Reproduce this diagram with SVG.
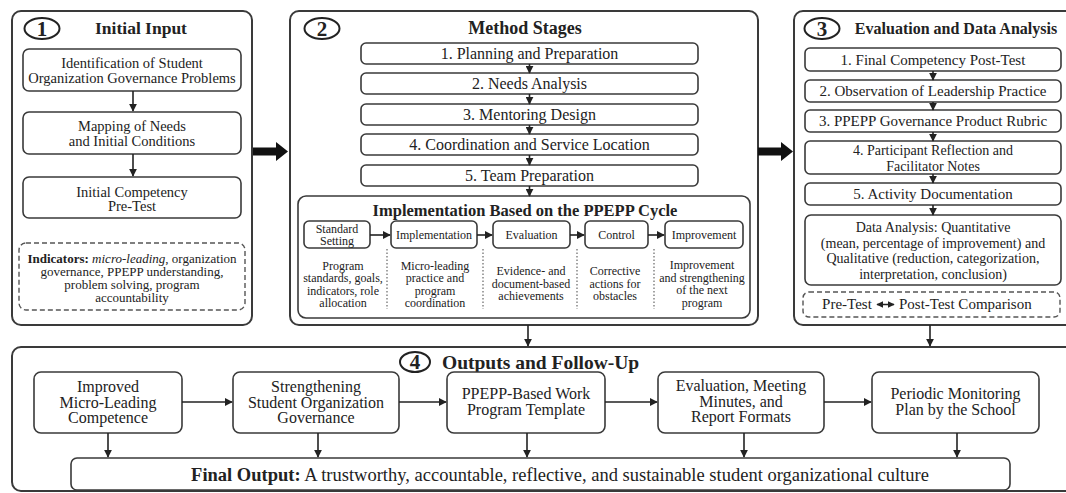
<svg xmlns="http://www.w3.org/2000/svg" width="1066" height="493" viewBox="0 0 1066 493">
<defs>
<marker id="ah" viewBox="0 0 10 10" refX="9" refY="5" markerWidth="8" markerHeight="8" markerUnits="userSpaceOnUse" orient="auto">
<path d="M0,0 L10,5 L0,10 z" fill="#222"/>
</marker>
<marker id="ahs" viewBox="0 0 10 10" refX="9" refY="5" markerWidth="7" markerHeight="7" markerUnits="userSpaceOnUse" orient="auto-start-reverse">
<path d="M0,0 L10,5 L0,10 z" fill="#222"/>
</marker>
</defs>
<style>
text{font-family:"Liberation Serif","Times New Roman",serif;fill:#222;text-anchor:middle}
.panel{fill:#fff;stroke:#3a3a3a;stroke-width:2}
.box{fill:#fff;stroke:#3a3a3a;stroke-width:1.6}
.dash{fill:#fff;stroke:#555;stroke-width:1.4;stroke-dasharray:5 3}
.dot{stroke:#666;stroke-width:1.2;stroke-dasharray:1.5 2;fill:none}
.num{fill:#fff;stroke:#222;stroke-width:2}
.numt{font-weight:bold;font-size:21px}
.title{font-weight:bold}
.c{stroke:#222;stroke-width:1.6;fill:none;marker-end:url(#ah)}
.big{fill:#111}
.t1{font-size:14.5px}
.t2{font-size:16px}
.t3{font-size:15px}
.t3b{font-size:14px}
.t4{font-size:16px}
.s{font-size:12px}
.d{font-size:12px}
</style>
<rect width="1066" height="493" fill="#fff"/>

<g id="panel1">
<rect class="panel" x="12" y="11" width="240" height="314" rx="9"/>
<ellipse class="num" cx="42" cy="28.5" rx="17.5" ry="10.5"/>
<text class="numt" x="42" y="35.5">1</text>
<text class="title" x="141" y="34" font-size="17.5">Initial Input</text>
</g>
<g id="n1a">
<rect class="box" x="23" y="49" width="218" height="42" rx="6"/>
<text class="t1" x="132" y="67.5">Identification of Student</text>
<text class="t1" x="132" y="83">Organization Governance Problems</text>
</g>
<g id="n1b">
<rect class="box" x="23" y="112" width="218" height="42" rx="6"/>
<text class="t1" x="132" y="130.5">Mapping of Needs</text>
<text class="t1" x="132" y="145.5">and Initial Conditions</text>
</g>
<g id="n1c">
<rect class="box" x="23" y="177" width="218" height="41" rx="6"/>
<text class="t1" x="132" y="196.5">Initial Competency</text>
<text class="t1" x="132" y="210.5">Pre-Test</text>
</g>
<g id="n1d">
<rect class="dash" x="19" y="243" width="226" height="67" rx="7"/>
<text font-size="13" x="132" y="262.5"><tspan font-weight="bold">Indicators:</tspan> <tspan font-style="italic">micro-leading</tspan>, organization</text>
<text font-size="13" x="132" y="275.5">governance, PPEPP understanding,</text>
<text font-size="13" x="132" y="288.5">problem solving, program</text>
<text font-size="13" x="132" y="301.5">accountability</text>
</g>

<g id="panel2">
<rect class="panel" x="290" y="11" width="468" height="314" rx="9"/>
<ellipse class="num" cx="322" cy="28.5" rx="17.5" ry="10.5"/>
<text class="numt" x="322" y="35.5">2</text>
<text class="title" x="525" y="34" font-size="18">Method Stages</text>
</g>
<g id="s1"><rect class="box" x="361" y="43" width="337" height="21" rx="5"/><text class="t2" x="529.5" y="58.5">1. Planning and Preparation</text></g>
<g id="s2"><rect class="box" x="361" y="73" width="337" height="21" rx="5"/><text class="t2" x="529.5" y="88.5">2. Needs Analysis</text></g>
<g id="s3"><rect class="box" x="361" y="104" width="337" height="21" rx="5"/><text class="t2" x="529.5" y="119.5">3. Mentoring Design</text></g>
<g id="s4"><rect class="box" x="361" y="134" width="337" height="21" rx="5"/><text class="t2" x="529.5" y="149.5">4. Coordination and Service Location</text></g>
<g id="s5"><rect class="box" x="361" y="165" width="337" height="21" rx="5"/><text class="t2" x="529.5" y="180.5">5. Team Preparation</text></g>
<g id="impl">
<rect class="box" x="298" y="196" width="452" height="122" rx="8"/>
<text class="title" x="525" y="216" font-size="16.5">Implementation Based on the PPEPP Cycle</text>
<line class="dot" x1="387" y1="249" x2="387" y2="309"/>
<line class="dot" x1="483" y1="249" x2="483" y2="309"/>
<line class="dot" x1="577" y1="249" x2="577" y2="309"/>
<line class="dot" x1="654" y1="249" x2="654" y2="309"/>
</g>
<g id="p1"><rect class="box" x="304" y="221" width="66" height="27" rx="5"/><text class="s" x="337" y="232.5">Standard</text><text class="s" x="337" y="244.5">Setting</text>
<text class="d" x="343" y="269.5">Program</text><text class="d" x="343" y="282">standards, goals,</text><text class="d" x="343" y="294.5">indicators, role</text><text class="d" x="343" y="307">allocation</text></g>
<g id="p2"><rect class="box" x="391" y="221" width="86" height="27" rx="5"/><text class="s" x="434" y="239">Implementation</text>
<text class="d" x="435" y="269.5">Micro-leading</text><text class="d" x="435" y="282">practice and</text><text class="d" x="435" y="294.5">program</text><text class="d" x="435" y="307">coordination</text></g>
<g id="p3"><rect class="box" x="493" y="221" width="77" height="27" rx="5"/><text class="s" x="531.5" y="239">Evaluation</text>
<text class="d" x="531" y="275">Evidence- and</text><text class="d" x="531" y="287.5">document-based</text><text class="d" x="531" y="300">achievements</text></g>
<g id="p4"><rect class="box" x="585" y="221" width="63" height="27" rx="5"/><text class="s" x="616.5" y="239">Control</text>
<text class="d" x="615" y="275">Corrective</text><text class="d" x="615" y="287.5">actions for</text><text class="d" x="615" y="300">obstacles</text></g>
<g id="p5"><rect class="box" x="665" y="221" width="78" height="27" rx="5"/><text class="s" x="704" y="239">Improvement</text>
<text class="d" x="702" y="269">Improvement</text><text class="d" x="702" y="281.5">and strengthening</text><text class="d" x="702" y="294">of the next</text><text class="d" x="702" y="306.5">program</text></g>

<g id="panel3">
<rect class="panel" x="794" y="11" width="290" height="314" rx="9"/>
<ellipse class="num" cx="822" cy="28.5" rx="17.5" ry="10.5"/>
<text class="numt" x="822" y="35.5">3</text>
<text class="title" x="956" y="34" font-size="16">Evaluation and Data Analysis</text>
</g>
<g id="e1"><rect class="box" x="805" y="48" width="256" height="23" rx="5"/><text class="t3" x="933" y="64.5">1. Final Competency Post-Test</text></g>
<g id="e2"><rect class="box" x="805" y="80" width="256" height="22" rx="5"/><text class="t3" x="933" y="96">2. Observation of Leadership Practice</text></g>
<g id="e3"><rect class="box" x="805" y="110" width="256" height="22" rx="5"/><text class="t3" x="933" y="126">3. PPEPP Governance Product Rubric</text></g>
<g id="e4"><rect class="box" x="805" y="141" width="256" height="33" rx="5"/><text class="t3b" x="933" y="155">4. Participant Reflection and</text><text class="t3b" x="933" y="170.5">Facilitator Notes</text></g>
<g id="e5"><rect class="box" x="805" y="183" width="256" height="22" rx="5"/><text class="t3" x="933" y="199">5. Activity Documentation</text></g>
<g id="e6"><rect class="box" x="805" y="215" width="256" height="70" rx="6"/>
<text class="t3b" x="933" y="232">Data Analysis: Quantitative</text>
<text class="t3b" x="933" y="247.5">(mean, percentage of improvement) and</text>
<text class="t3b" x="933" y="263">Qualitative (reduction, categorization,</text>
<text class="t3b" x="933" y="278.5">interpretation, conclusion)</text></g>
<g id="e7"><rect class="dash" x="803" y="292" width="257" height="25" rx="6"/>
<text class="t3" x="847" y="309">Pre-Test</text>
<line x1="877" y1="304.5" x2="894" y2="304.5" stroke="#222" stroke-width="1.5" marker-start="url(#ahs)" marker-end="url(#ahs)"/>
<text class="t3" x="899" y="309" style="text-anchor:start">Post-Test Comparison</text></g>

<g id="panel4">
<rect class="panel" x="12" y="347" width="1070" height="144" rx="9"/>
<ellipse class="num" cx="415" cy="362" rx="15" ry="10"/>
<text class="numt" x="415" y="369" font-size="19">4</text>
<text class="title" x="442" y="369" font-size="19.5" style="text-anchor:start">Outputs and Follow-Up</text>
</g>
<g id="o1"><rect class="box" x="34" y="372" width="148" height="61" rx="7"/><text class="t4" x="108" y="392">Improved</text><text class="t4" x="108" y="407.5">Micro-Leading</text><text class="t4" x="108" y="423">Competence</text></g>
<g id="o2"><rect class="box" x="233" y="372" width="166" height="61" rx="7"/><text class="t4" x="316" y="392">Strengthening</text><text class="t4" x="316" y="407.5">Student Organization</text><text class="t4" x="316" y="423">Governance</text></g>
<g id="o3"><rect class="box" x="447" y="372" width="158" height="61" rx="7"/><text class="t4" x="526" y="399">PPEPP-Based Work</text><text class="t4" x="526" y="414.5">Program Template</text></g>
<g id="o4"><rect class="box" x="658" y="372" width="166" height="61" rx="7"/><text class="t4" x="741" y="391">Evaluation, Meeting</text><text class="t4" x="741" y="406.5">Minutes, and</text><text class="t4" x="741" y="422">Report Formats</text></g>
<g id="o5"><rect class="box" x="872" y="372" width="167" height="61" rx="7"/><text class="t4" x="955.5" y="399">Periodic Monitoring</text><text class="t4" x="955.5" y="414.5">Plan by the School</text></g>
<g id="final"><rect class="box" x="71" y="458" width="939" height="32" rx="6"/>
<text x="560" y="480.5" font-size="18.5"><tspan font-weight="bold">Final Output:</tspan> A trustworthy, accountable, reflective, and sustainable student organizational culture</text></g>

<g id="connectors">
<line class="c" x1="133" y1="91" x2="133" y2="111"/>
<line class="c" x1="133" y1="154" x2="133" y2="176"/>
<polygon class="big" points="253,147.5 276,147.5 276,142 288,151.5 276,161 276,155.5 253,155.5"/>
<polygon class="big" points="758,147.5 781,147.5 781,142 793,151.5 781,161 781,155.5 758,155.5"/>
<line class="c" x1="529.5" y1="64" x2="529.5" y2="73"/>
<line class="c" x1="529.5" y1="94" x2="529.5" y2="104"/>
<line class="c" x1="529.5" y1="125" x2="529.5" y2="134"/>
<line class="c" x1="529.5" y1="155" x2="529.5" y2="165"/>
<line class="c" x1="529.5" y1="186" x2="529.5" y2="196"/>
<line class="c" x1="370" y1="235" x2="390" y2="235"/>
<line class="c" x1="477" y1="235" x2="492" y2="235"/>
<line class="c" x1="570" y1="235" x2="584" y2="235"/>
<line class="c" x1="648" y1="235" x2="664" y2="235"/>
<line class="c" x1="933" y1="71" x2="933" y2="80"/>
<line class="c" x1="933" y1="102" x2="933" y2="110"/>
<line class="c" x1="933" y1="132" x2="933" y2="141"/>
<line class="c" x1="933" y1="174" x2="933" y2="183"/>
<line class="c" x1="933" y1="205" x2="933" y2="215"/>
<line class="c" x1="528" y1="325" x2="528" y2="346"/>
<line class="c" x1="930" y1="325" x2="930" y2="346"/>
<line class="c" x1="182" y1="402" x2="232" y2="402"/>
<line class="c" x1="399" y1="402" x2="446" y2="402"/>
<line class="c" x1="605" y1="402" x2="657" y2="402"/>
<line class="c" x1="824" y1="402" x2="871" y2="402"/>
<line class="c" x1="108" y1="433" x2="108" y2="457"/>
<line class="c" x1="318" y1="433" x2="318" y2="457"/>
<line class="c" x1="527" y1="433" x2="527" y2="457"/>
<line class="c" x1="744" y1="433" x2="744" y2="457"/>
<line class="c" x1="957" y1="433" x2="957" y2="457"/>
</g>
</svg>
